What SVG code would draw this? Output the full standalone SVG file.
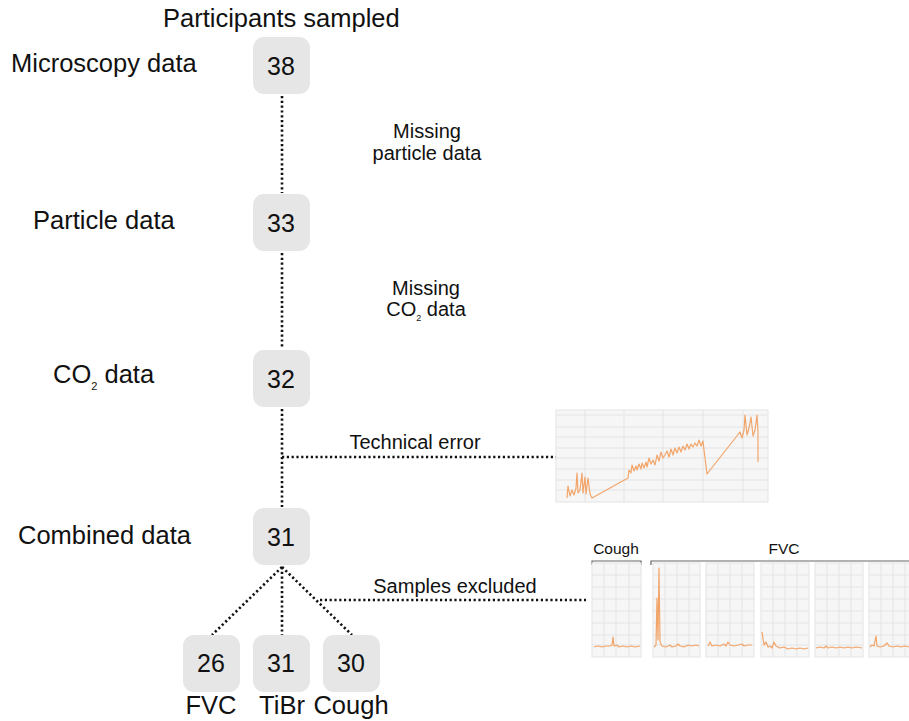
<svg xmlns="http://www.w3.org/2000/svg" width="909" height="721" viewBox="0 0 909 721">
<defs>
<style>
text{font-family:"Liberation Sans",Arial,sans-serif;fill:#111}
.lbl{font-size:25.5px}
.num{font-size:25px;text-anchor:middle}
.note{font-size:20px;text-anchor:middle}
.small{font-size:15.5px;text-anchor:middle}
.box{fill:#e6e6e6}
.dot{stroke:#111;stroke-width:2.6;stroke-dasharray:2.2 2.6;fill:none}
.bg{fill:#f6f6f6;stroke:#e4e4e4;stroke-width:1}
.grid{stroke:#e4e4e4;stroke-width:1}
.sig{fill:none;stroke:#f2a56a;stroke-width:1.2;stroke-linejoin:round}
.brk{fill:none;stroke:#666;stroke-width:1.2}
</style>
</defs>
<rect width="909" height="721" fill="#fff"/>
<text class="lbl" x="163" y="27">Participants sampled</text>
<text class="lbl" x="11" y="72">Microscopy data</text>
<text class="lbl" x="33" y="229">Particle data</text>
<text class="lbl" x="53" y="383">CO<tspan font-size="11" dy="7">2</tspan><tspan dy="-7"> data</tspan></text>
<text class="lbl" x="18" y="544">Combined data</text>

<g id="connectors">
<line class="dot" x1="282" y1="96" x2="282" y2="193"/>
<line class="dot" x1="282" y1="253" x2="282" y2="349"/>
<line class="dot" x1="282" y1="409" x2="282" y2="507"/>
<line class="dot" x1="282" y1="457" x2="556" y2="457"/>
<line class="dot" x1="282" y1="567" x2="212" y2="635"/>
<line class="dot" x1="282" y1="567" x2="282" y2="635"/>
<line class="dot" x1="282" y1="567" x2="352" y2="635"/>
<line class="dot" x1="320" y1="600" x2="586" y2="600"/>
<text class="note" x="427" y="138">Missing</text>
<text class="note" x="427" y="160">particle data</text>
<text class="note" x="426" y="295">Missing</text>
<text class="note" x="426" y="316">CO<tspan font-size="9" dy="5">2</tspan><tspan dy="-5"> data</tspan></text>
<text class="note" x="415" y="449">Technical error</text>
<text class="note" x="455" y="593">Samples excluded</text>
</g>

<g id="n38"><rect class="box" x="253" y="37" width="57" height="57" rx="11"/><text class="num" x="281" y="75">38</text></g>
<g id="n33"><rect class="box" x="253" y="194" width="57" height="57" rx="11"/><text class="num" x="281" y="232">33</text></g>
<g id="n32"><rect class="box" x="253" y="350" width="57" height="57" rx="11"/><text class="num" x="281" y="388">32</text></g>
<g id="n31"><rect class="box" x="253" y="508" width="57" height="57" rx="11"/><text class="num" x="281" y="546">31</text></g>
<g id="nFVC"><rect class="box" x="183" y="635" width="57" height="57" rx="11"/><text class="num" x="211" y="672">26</text><text class="lbl" x="211" y="714" text-anchor="middle">FVC</text></g>
<g id="nTiBr"><rect class="box" x="253" y="635" width="57" height="57" rx="11"/><text class="num" x="281" y="672">31</text><text class="lbl" x="282" y="714" text-anchor="middle">TiBr</text></g>
<g id="nCough"><rect class="box" x="323" y="635" width="57" height="57" rx="11"/><text class="num" x="351" y="672">30</text><text class="lbl" x="351" y="714" text-anchor="middle">Cough</text></g>

<g id="chart-tech">
<rect class="bg" x="556" y="410" width="212" height="92"/>
<path class="grid" d="M585 410V502M624 410V502M663 410V502M703 410V502M743 410V502M556 415H768M556 427H768M556 437H768M556 448H768M556 458H768M556 469H768M556 480H768M556 490H768"/>
<polyline class="sig" points="567,498 568,486 570,496 572,490 574,495 576,488 577,473 578,493 580,490 582,473 583,493 585,477 586,494 588,478 590,494 592,498 628,478 629,470 631,473 632,465 634,471 636,466 637,470 639,464 641,469 642,463 644,468 646,462 647,467 649,458 651,464 653,460 655,465 657,455 659,461 661,452 663,458 665,455 667,451 669,457 671,449 673,455 675,448 677,453 679,447 681,452 683,446 685,450 687,444 689,449 691,444 693,447 695,443 697,446 699,440 701,446 703,441 704,450 707,474 740,432 742,438 744,430 745,415 747,435 749,428 751,417 753,436 755,430 757,415 758,432 758,462"/>
</g>

<g id="chart-excluded">
<text class="small" x="616" y="554">Cough</text>
<text class="small" x="784" y="554">FVC</text>
<path class="brk" d="M592 565V561H641V565"/>
<path class="brk" d="M651 565V561H912"/>
<g id="p-cough">
<rect class="bg" x="592" y="563" width="49" height="94"/>
<path class="grid" d="M604 563V657M616 563V657M629 563V657M592 575H641M592 587H641M592 599H641M592 611H641M592 623H641M592 635H641M592 645H641"/>
<polyline class="sig" points="594,647 598,646 602,647 606,646 610,646 612,645 613,637 614,646 617,645 619,647 623,646 627,647 631,646 635,647 640,646"/>
</g>
<g id="p-fvc1">
<rect class="bg" x="653" y="563" width="47" height="94"/>
<path class="grid" d="M665 563V657M677 563V657M689 563V657M653 575H700M653 587H700M653 599H700M653 611H700M653 623H700M653 635H700M653 645H700"/>
<polyline class="sig" points="654,647 656,645 657,598 658,640 659,568 660,642 662,646 666,647 670,645 672,647 676,646 678,644 680,646 684,647 688,645 692,646 696,645 699,646"/>
</g>
<g id="p-fvc2">
<rect class="bg" x="706" y="563" width="48" height="94"/>
<path class="grid" d="M718 563V657M730 563V657M742 563V657M706 575H754M706 587H754M706 599H754M706 611H754M706 623H754M706 635H754M706 645H754"/>
<polyline class="sig" points="708,646 710,642 712,646 716,645 720,646 724,644 726,646 728,642 730,645 734,646 738,645 742,644 744,646 748,645 752,645"/>
</g>
<g id="p-fvc3">
<rect class="bg" x="761" y="563" width="48" height="94"/>
<path class="grid" d="M773 563V657M785 563V657M797 563V657M761 575H809M761 587H809M761 599H809M761 611H809M761 623H809M761 635H809M761 645H809"/>
<polyline class="sig" points="762,632 764,645 766,642 768,647 770,646 772,648 774,642 776,646 780,648 784,647 788,649 792,648 796,649 800,648 804,649 808,648"/>
</g>
<g id="p-fvc4">
<rect class="bg" x="815" y="563" width="48" height="94"/>
<path class="grid" d="M827 563V657M839 563V657M851 563V657M815 575H863M815 587H863M815 599H863M815 611H863M815 623H863M815 635H863M815 645H863"/>
<polyline class="sig" points="816,648 820,647 824,648 826,646 828,648 832,647 836,648 840,647 844,648 848,647 852,648 856,647 862,648"/>
</g>
<g id="p-fvc5">
<rect class="bg" x="869" y="563" width="45" height="94"/>
<path class="grid" d="M881 563V657M893 563V657M905 563V657M869 575H914M869 587H914M869 599H914M869 611H914M869 623H914M869 635H914M869 645H914"/>
<polyline class="sig" points="870,647 872,645 874,646 876,636 877,646 880,647 884,646 887,643 889,646 893,647 897,646 901,647 905,646 909,647"/>
</g>
</g>
</svg>
